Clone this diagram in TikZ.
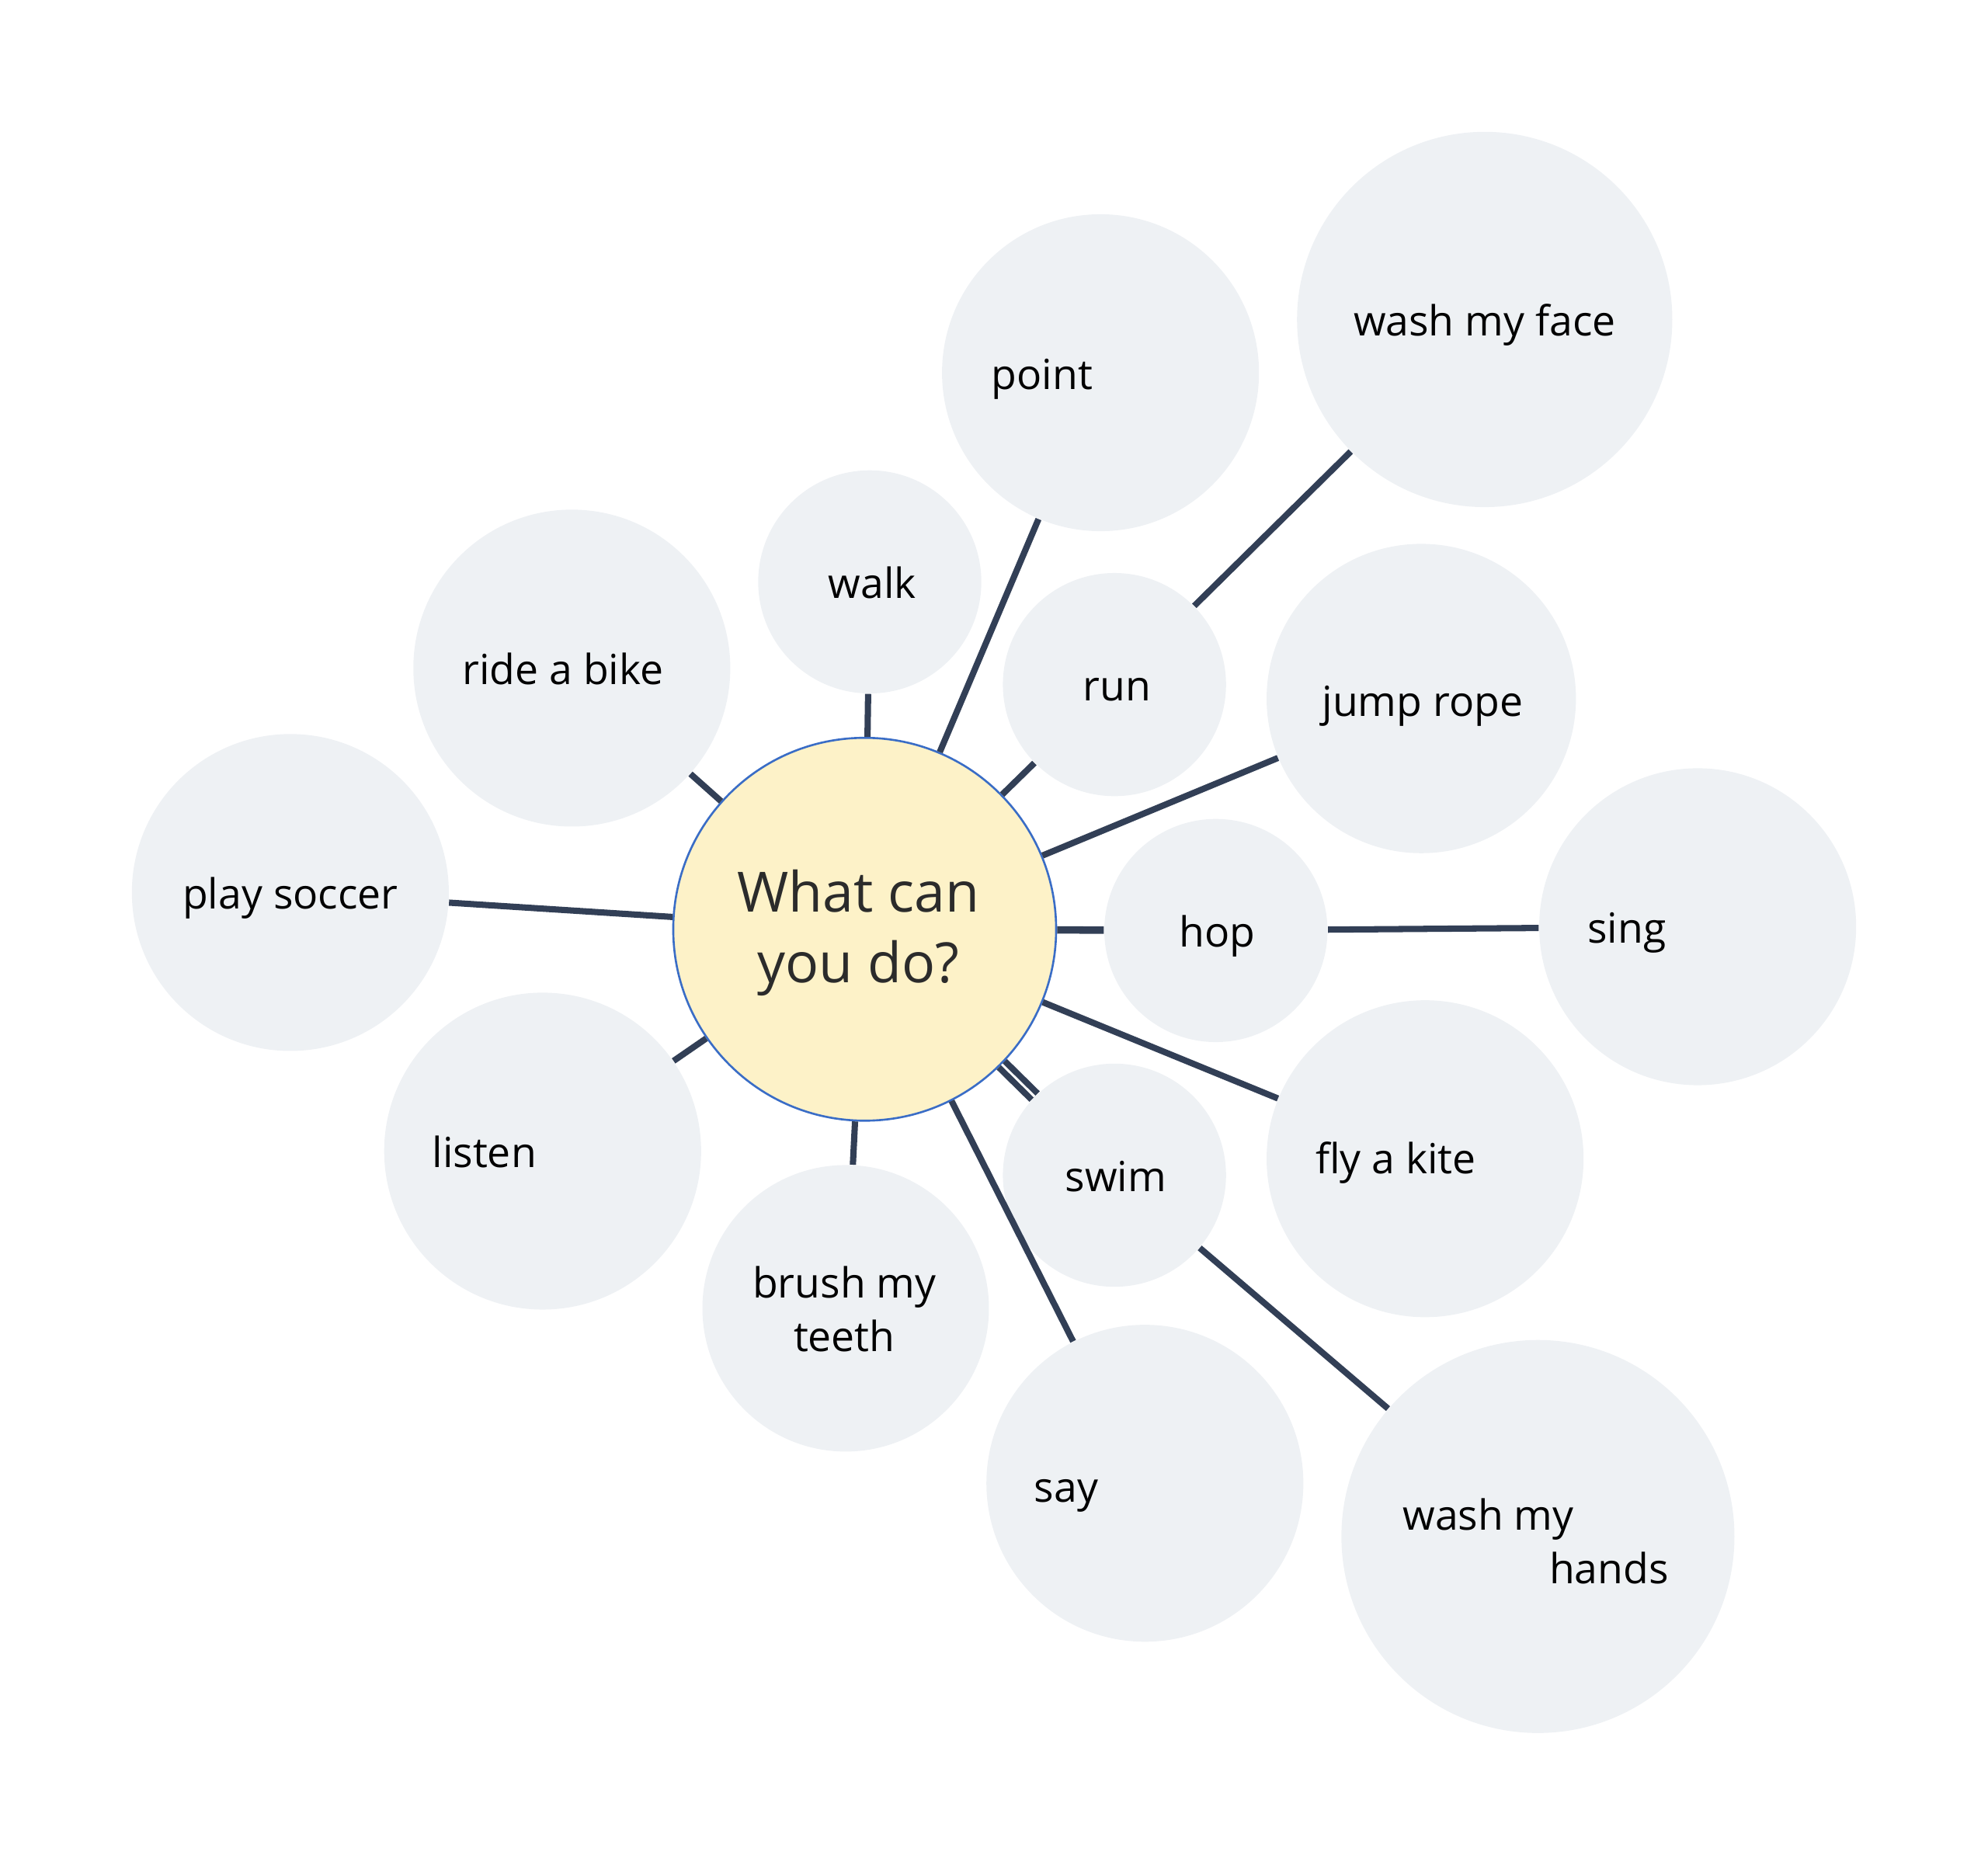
\documentclass[tikz,border=0pt]{standalone}
\usepackage{fontspec}
\setmainfont{Open Sans}
\definecolor{bubfill}{HTML}{EEF1F4}
\definecolor{linec}{HTML}{323F56}
\definecolor{hubfill}{HTML}{FDF2C8}
\definecolor{hubline}{HTML}{3A6DC6}
\definecolor{hubtext}{HTML}{2B2B2B}
\begin{document}
\begin{tikzpicture}[x=0.4975pt,y=-0.4975pt,
  bub/.style={circle, fill=bubfill, inner sep=0pt, minimum size=#1*0.4975pt},
  hub/.style={circle, fill=hubfill, draw=hubline, line width=0.8pt, inner sep=0pt, minimum size=302*0.4975pt},
  conn/.style={draw=linec, line width=2.45pt},
  lbl/.style={font=\fontsize{16.3pt}{21pt}\selectfont, text=black, inner sep=0pt, anchor=base},
  hubtxt/.style={font=\fontsize{21.8pt}{27.7pt}\selectfont, text=hubtext, inner sep=0pt, align=center}]
\useasboundingbox (0,0) rectangle (1568,1474);
% bubbles
\node[bub=250] (point) at (868,294) {};
\node[bub=296] (face) at (1171,252) {};
\node[bub=176] (walk) at (686,459) {};
\node[bub=176] (run) at (879,540) {};
\node[bub=250] (bike) at (451,527) {};
\node[bub=244] (rope) at (1121,551) {};
\node[bub=250] (soccer) at (229,704) {};
\node[bub=176] (hop) at (959,734) {};
\node[bub=250] (sing) at (1339,731) {};
\node[bub=250] (listen) at (428,908) {};
\node[bub=250] (kite) at (1124,914) {};
\node[bub=176] (swim) at (879,927) {};
\node[bub=226] (teeth) at (667,1032) {};
\node[bub=250] (say) at (903,1170) {};
\node[bub=310] (hands) at (1213,1212) {};
\node[hub] (hub) at (682,733) {};
% connectors
\draw[conn] (hub) -- (point);
\draw[conn] (hub) -- (walk);
\draw[conn] (hub) -- (run);
\draw[conn] (run) -- (face);
\draw[conn] (hub) -- (bike);
\draw[conn] (hub) -- (rope);
\draw[conn] (hub) -- (soccer);
\draw[conn, line width=2.9pt] (hub) -- (hop);
\draw[conn] (hop) -- (sing);
\draw[conn] (hub) -- (listen);
\draw[conn] (hub) -- (kite);
\draw[conn, double=white, double distance=0.9pt] (hub) -- (swim);
\draw[conn] (swim) -- (hands);
\draw[conn] (hub) -- (say);
\draw[conn] (hub) -- (teeth);
% labels
\node[hubtxt] (hubt) at (677,736) {What can\\you do?};
\node[lbl] (tpoint) at (822,307) {point};
\node[lbl] (tface) at (1171,265) {wash my face};
\node[lbl] (twalk) at (688,472) {walk};
\node[lbl] (trun) at (881,553) {run};
\node[lbl] (tbike) at (444,540) {ride a bike};
\node[lbl] (trope) at (1122,565) {jump rope};
\node[lbl] (tsoccer) at (229,717) {play soccer};
\node[lbl] (thop) at (960,747) {hop};
\node[lbl] (tsing) at (1283,744) {sing};
\node[lbl] (tlisten) at (382,921) {listen};
\node[lbl] (tkite) at (1101,926) {fly a kite};
\node[lbl] (tswim) at (880,940) {swim};
\node[lbl, align=center] (tteeth) at (666,1066) {brush my\\teeth};
\node[lbl] (tsay) at (841,1185) {say};
\node[lbl, anchor=base west, align=left] (thands) at (1106,1249) {wash my\\\hspace*{57.5pt}hands};
\end{tikzpicture}
\end{document}
